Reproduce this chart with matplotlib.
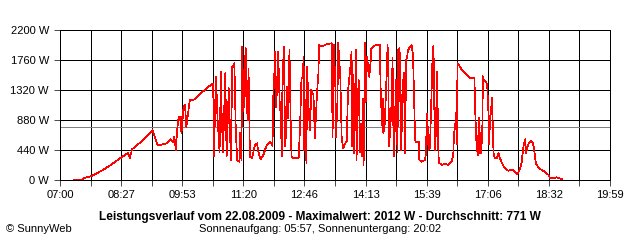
import numpy as np
import matplotlib.pyplot as plt

plt.rcParams['font.family'] = ['Liberation Sans', 'DejaVu Sans']

zeiten = ["07:20", "07:31", "07:34", "07:45", "08:01", "08:14", "08:25", "08:36", "08:39", "08:42",
          "08:58", "09:11", "09:18", "09:22", "09:31", "09:37", "09:40", "09:42", "09:44", "09:46",
          "09:48", "09:49", "09:51", "09:52", "09:55", "09:57", "09:59", "10:02", "10:04", "10:09",
          "10:18", "10:28", "10:35", "10:37", "10:38", "10:40", "10:41", "10:43", "10:46", "10:48",
          "10:49", "10:51", "10:54", "10:56", "10:57", "10:59", "11:02", "11:04", "11:05", "11:07",
          "11:09", "11:11", "11:14", "11:15", "11:17", "11:18", "11:20", "11:21", "11:23", "11:24",
          "11:26", "11:27", "11:29", "11:32", "11:34", "11:36", "11:39", "11:41", "11:44", "11:48",
          "11:52", "11:55", "11:58", "12:01", "12:02", "12:05", "12:06", "12:08", "12:09", "12:11",
          "12:13", "12:14", "12:15", "12:17", "12:19", "12:20", "12:22", "12:23", "12:25", "12:27",
          "12:28", "12:30", "12:33", "12:38", "12:40", "12:42", "12:44", "12:45", "12:46", "12:47",
          "12:49", "12:50", "12:52", "12:54", "12:56", "12:59", "13:01", "13:04", "13:06", "13:07",
          "13:11", "13:15", "13:20", "13:25", "13:26", "13:28", "13:30", "13:31", "13:33", "13:34",
          "13:37", "13:39", "13:41", "13:44", "13:46", "13:48", "13:51", "13:53", "13:54", "13:55",
          "13:56", "13:58", "13:59", "14:00", "14:02", "14:03", "14:05", "14:06", "14:08", "14:09",
          "14:10", "14:11", "14:12", "14:13", "14:15", "14:17", "14:18", "14:20", "14:21", "14:24",
          "14:29", "14:33", "14:34", "14:36", "14:37", "14:38", "14:40", "14:42", "14:44", "14:45",
          "14:46", "14:48", "14:50", "14:51", "14:52", "14:53", "14:56", "14:58", "14:59", "15:01",
          "15:03", "15:04", "15:05", "15:07", "15:09", "15:10", "15:12", "15:13", "15:16", "15:18",
          "15:20", "15:23", "15:24", "15:28", "15:29", "15:32", "15:37", "15:38", "15:40", "15:42",
          "15:44", "15:47", "15:48", "15:49", "15:50", "15:51", "15:52", "15:53", "15:54", "15:56",
          "15:57", "16:01", "16:05", "16:10", "16:15", "16:17", "16:18", "16:20", "16:21", "16:22",
          "16:23", "16:25", "16:29", "16:36", "16:41", "16:47", "16:48", "16:50", "16:52", "16:53",
          "16:54", "16:55", "16:56", "16:58", "16:59", "17:00", "17:03", "17:05", "17:07", "17:08",
          "17:09", "17:10", "17:12", "17:13", "17:14", "17:16", "17:19", "17:21", "17:23", "17:27",
          "17:30", "17:35", "17:40", "17:44", "17:48", "17:51", "17:54", "17:56", "17:58", "17:59",
          "18:00", "18:02", "18:04", "18:07", "18:10", "18:12", "18:14", "18:17", "18:20", "18:25",
          "18:29", "18:32", "18:34", "18:39", "18:43", "18:47", "18:51"]
leistung = [5, 7, 29, 59, 147, 235, 318, 396, 323, 450,
            587, 733, 513, 513, 538, 597, 557, 635, 440, 733,
            928, 880, 928, 685, 1075, 1100, 782, 1027, 1173, 1173,
            1261, 1345, 1408, 1418, 342, 1173, 1515, 928, 415, 1588,
            953, 415, 1565, 342, 660, 1345, 293, 1662, 1662, 1712,
            708, 293, 268, 685, 293, 1955, 1002, 1467, 1932, 1173,
            880, 1638, 342, 318, 415, 513, 538, 415, 304, 367,
            489, 538, 562, 499, 1198, 1882, 1075, 1467, 1882, 1173,
            880, 342, 1368, 1955, 489, 685, 1368, 905, 1907, 685,
            342, 318, 318, 318, 782, 1492, 1515, 1808, 440, 1173,
            245, 1662, 1075, 733, 1320, 1247, 612, 1272, 1565, 1980,
            1955, 1980, 1995, 2005, 635, 1980, 1368, 635, 1173, 2012,
            1515, 612, 465, 538, 562, 1320, 1613, 1882, 489, 1540,
            392, 1173, 1907, 293, 1173, 1467, 415, 831, 342, 1198,
            220, 928, 2005, 1148, 1808, 1565, 1515, 1735, 1932, 1965,
            1980, 1980, 1393, 807, 1198, 685, 831, 1368, 1980, 1588,
            489, 782, 1222, 1785, 880, 342, 1467, 415, 1907, 1932,
            440, 733, 1320, 1565, 392, 1735, 1833, 1907, 1955, 1980,
            1833, 587, 562, 562, 293, 268, 293, 367, 978, 440,
            465, 1565, 1936, 1961, 1203, 444, 1056, 641, 1594, 371,
            249, 224, 235, 224, 274, 371, 664, 836, 983, 518,
            1716, 1691, 1613, 1540, 1496, 1496, 1031, 494, 371, 909,
            396, 689, 396, 616, 1521, 1471, 1448, 1398, 958, 518,
            934, 958, 1203, 763, 396, 323, 323, 396, 323, 224,
            176, 136, 154, 125, 88, 147, 268, 465, 562, 597,
            392, 489, 538, 576, 538, 415, 245, 195, 161, 132,
            98, 73, 25, 25, 40, 25, 10]
durchschnitt = 771
maximum = 2012
x_labels = ["07:00", "08:27", "09:53", "11:20", "12:46", "14:13", "15:39", "17:06", "18:32", "19:59"]
y_werte = [0, 440, 880, 1320, 1760, 2200]


def minuten(s):
    h, m = s.split(":")
    return int(h) * 60 + int(m)


t = np.array([minuten(z) for z in zeiten])
t_start = minuten(x_labels[0])
t_ende = minuten(x_labels[-1])

fig = plt.figure(figsize=(6.4, 2.4), dpi=100)
ax = fig.add_axes([60 / 640, 60 / 240, 550 / 640, 150 / 240])

ax.plot(t, leistung, color='#ff0000', lw=0.5, antialiased=False, zorder=3)
ax.axhline(durchschnitt, color='#808080', lw=0.5, antialiased=False, zorder=2)

ax.set_xlim(t_start, t_ende)
ax.set_ylim(0, 2200)
ticks = np.linspace(t_start, t_ende, 19)
ax.set_xticks(ticks)
ax.set_xticklabels([x_labels[i // 2] if i % 2 == 0 else "" for i in range(19)])
ax.set_yticks(y_werte)
ax.set_yticklabels([f"{v} W" for v in y_werte])
ax.grid(True, color='black', lw=0.5, antialiased=False)
ax.tick_params(axis='x', length=4, width=0.5, pad=3, labelsize=8)
ax.tick_params(axis='y', length=4, width=0.5, pad=4, labelsize=8)
for sp in ax.spines.values():
    sp.set_linewidth(0.5)
    sp.set_antialiased(False)

fig.text(0.5, 1 - 217 / 240,
         f"Leistungsverlauf vom 22.08.2009 - Maximalwert: {maximum} W - Durchschnitt: {durchschnitt} W",
         ha='center', va='center', fontsize=8.6, fontweight='bold')
fig.text(0.5, 1 - 229 / 240, "Sonnenaufgang: 05:57, Sonnenuntergang: 20:02",
         ha='center', va='center', fontsize=8)
fig.text(6 / 640, 1 - 229 / 240, "© SunnyWeb", ha='left', va='center', fontsize=8)

plt.savefig('out.png', dpi=100)
